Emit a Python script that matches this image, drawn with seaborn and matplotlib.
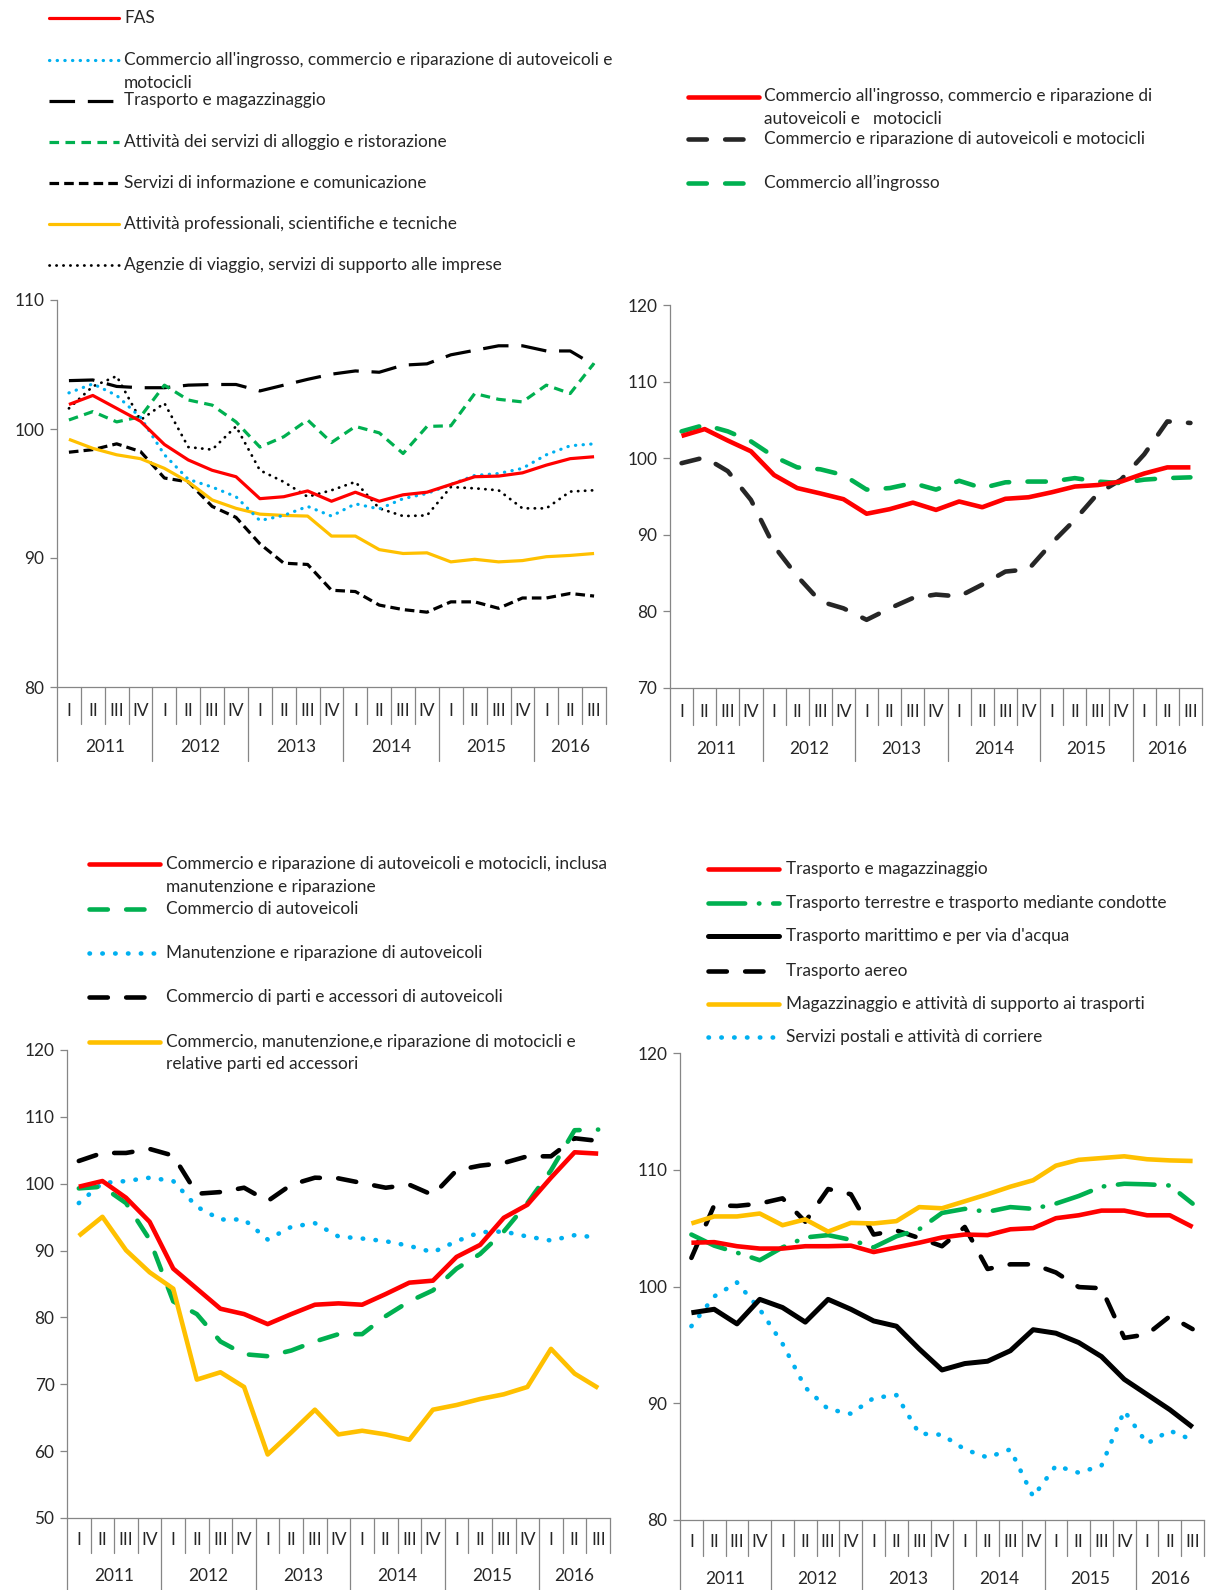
import matplotlib
matplotlib.use("Agg")
import matplotlib.pyplot as plt
import seaborn as sns
from matplotlib.lines import Line2D
from matplotlib.transforms import blended_transform_factory

# --- dati: trimestri 2011 I - 2016 III ---
trimestri = ["I", "II", "III", "IV"] * 5 + ["I", "II", "III"]
anni = ["2011", "2012", "2013", "2014", "2015", "2016"]
x_idx = list(range(len(trimestri)))

# pannello 1
p1_fas = [101.9, 102.6, 101.6, 100.6, 98.8, 97.6, 96.8, 96.3, 94.6, 94.75, 95.2, 94.4, 95.1, 94.4, 94.9, 95.1, 95.7, 96.3, 96.35, 96.6, 97.2, 97.7, 97.85]
p1_ingrosso = [102.8, 103.5, 102.6, 100.9, 98.0, 96.1, 95.5, 94.75, 92.9, 93.3, 94.0, 93.25, 94.2, 93.8, 94.6, 95.0, 95.7, 96.4, 96.55, 96.95, 98.0, 98.7, 98.85]
p1_trasporto = [103.75, 103.8, 103.3, 103.2, 103.2, 103.4, 103.45, 103.45, 102.95, 103.4, 103.85, 104.25, 104.5, 104.4, 104.95, 105.05, 105.75, 106.1, 106.45, 106.45, 106.05, 106.05, 104.95]
p1_alloggio = [100.7, 101.35, 100.55, 100.95, 103.4, 102.25, 101.85, 100.55, 98.6, 99.4, 100.7, 98.95, 100.2, 99.7, 98.1, 100.2, 100.25, 102.75, 102.3, 102.1, 103.4, 102.75, 105.1]
p1_informazione = [98.2, 98.4, 98.85, 98.25, 96.2, 95.9, 94.0, 93.15, 91.1, 89.6, 89.5, 87.5, 87.4, 86.35, 86.0, 85.8, 86.6, 86.6, 86.1, 86.9, 86.9, 87.25, 87.05]
p1_professionali = [99.2, 98.5, 98.0, 97.7, 96.95, 95.9, 94.5, 93.85, 93.4, 93.3, 93.25, 91.7, 91.7, 90.65, 90.35, 90.4, 89.7, 89.9, 89.7, 89.8, 90.1, 90.2, 90.35]
p1_agenzie = [101.6, 103.3, 104.1, 100.7, 102.0, 98.6, 98.4, 100.2, 96.8, 95.9, 94.75, 95.25, 95.9, 93.85, 93.25, 93.3, 95.5, 95.4, 95.25, 93.85, 93.85, 95.15, 95.25]

# pannello 2
p2_totale = [102.9, 103.8, 102.3, 100.9, 97.8, 96.1, 95.4, 94.65, 92.75, 93.35, 94.2, 93.25, 94.35, 93.6, 94.7, 94.9, 95.55, 96.3, 96.5, 96.95, 98.0, 98.8, 98.8]
p2_riparazione = [99.35, 100.1, 98.3, 94.55, 88.5, 84.6, 81.3, 80.4, 78.9, 80.4, 81.75, 82.2, 81.95, 83.5, 85.2, 85.5, 88.9, 91.95, 95.4, 97.2, 100.5, 104.8, 104.6]
p2_ingrosso = [103.5, 104.35, 103.5, 102.2, 100.2, 98.8, 98.55, 97.8, 95.9, 96.1, 96.75, 95.9, 97.05, 96.1, 96.85, 96.95, 96.95, 97.4, 96.95, 96.75, 97.2, 97.4, 97.5]

# pannello 3
p3_totale = [99.55, 100.4, 97.9, 94.3, 87.3, 84.3, 81.3, 80.5, 79.0, 80.5, 81.9, 82.1, 81.9, 83.5, 85.2, 85.5, 89.05, 90.85, 94.9, 96.85, 100.9, 104.7, 104.5]
p3_autoveicoli = [99.3, 99.55, 97.1, 91.65, 82.4, 80.5, 76.4, 74.5, 74.2, 75.05, 76.4, 77.5, 77.5, 80.2, 82.4, 84.05, 87.3, 89.5, 92.85, 97.1, 102.0, 108.0, 108.1]
p3_manutenzione = [97.1, 100.1, 100.4, 100.9, 100.4, 96.55, 94.65, 94.65, 91.65, 93.55, 94.1, 92.1, 91.8, 91.4, 90.7, 89.75, 91.4, 92.75, 92.85, 92.1, 91.5, 92.3, 91.95]
p3_parti = [103.4, 104.6, 104.6, 105.2, 104.2, 98.5, 98.75, 99.4, 97.4, 99.85, 100.9, 100.8, 100.1, 99.4, 99.85, 98.3, 102.0, 102.7, 103.1, 104.1, 104.1, 106.8, 106.4]
p3_motocicli = [92.2, 95.05, 90.05, 86.75, 84.3, 70.7, 71.8, 69.6, 59.5, 62.8, 66.2, 62.5, 63.05, 62.5, 61.7, 66.2, 66.9, 67.8, 68.5, 69.6, 75.3, 71.6, 69.45]

# pannello 4
p4_totale = [103.75, 103.8, 103.45, 103.25, 103.25, 103.45, 103.45, 103.5, 102.95, 103.35, 103.75, 104.2, 104.45, 104.4, 104.9, 105.0, 105.85, 106.1, 106.5, 106.5, 106.1, 106.1, 105.1]
p4_terrestre = [104.45, 103.5, 102.9, 102.25, 103.35, 104.2, 104.4, 104.0, 103.35, 104.3, 104.9, 106.3, 106.65, 106.4, 106.8, 106.65, 107.1, 107.75, 108.55, 108.8, 108.75, 108.65, 107.1]
p4_marittimo = [97.75, 98.05, 96.8, 98.9, 98.2, 96.95, 98.9, 98.05, 97.05, 96.6, 94.65, 92.85, 93.4, 93.6, 94.5, 96.3, 96.0, 95.2, 94.0, 92.05, 90.75, 89.45, 87.95]
p4_aereo = [102.45, 106.95, 106.9, 107.1, 107.55, 105.55, 108.35, 107.9, 104.45, 104.8, 104.15, 103.45, 105.1, 101.5, 101.9, 101.9, 101.2, 99.95, 99.85, 95.6, 95.9, 97.45, 96.35]
p4_magazzinaggio = [105.4, 106.0, 106.0, 106.25, 105.25, 105.75, 104.7, 105.45, 105.4, 105.6, 106.8, 106.7, 107.3, 107.9, 108.55, 109.1, 110.35, 110.85, 111.0, 111.15, 110.9, 110.8, 110.75]
p4_postali = [96.6, 99.15, 100.35, 98.05, 95.1, 91.35, 89.5, 89.1, 90.45, 90.7, 87.4, 87.3, 86.05, 85.35, 86.05, 82.0, 84.65, 84.05, 84.65, 89.35, 86.55, 87.65, 86.85]

ROSSO, CIANO, VERDE, GIALLO, NERO, SCURO = "#FF0000", "#00B0F0", "#00B050", "#FFC000", "#000000", "#262626"
GRIGIO = "#868686"
FS = 12.4

sns.set_style("ticks")
plt.rcParams["font.family"] = ["Lato", "DejaVu Sans"]

W, H = 1211, 1590
fig = plt.figure(figsize=(W / 100, H / 100), dpi=100)


def fx(x):
    return x / W


def fy(y):
    return 1 - y / H


def pannello(left, top, right, bottom, ymin, ymax, serie, off):
    ax = fig.add_axes([fx(left), fy(bottom), (right - left) / W, (bottom - top) / H])
    h = bottom - top
    for valori, (colore, lw, ls, cap) in serie:
        sns.lineplot(x=x_idx, y=valori, ax=ax, color=colore, linewidth=lw, linestyle=ls,
                     dash_capstyle=cap, solid_capstyle="butt", solid_joinstyle="round")
    sns.despine(ax=ax)
    for s in ["left", "bottom"]:
        ax.spines[s].set_color(GRIGIO)
        ax.spines[s].set_linewidth(0.9)
    ax.set_yticks(range(ymin, ymax + 1, 10))
    ax.tick_params(axis="y", length=5, width=0.9, color=GRIGIO, labelsize=FS, pad=4)
    ax.set_xticks([])
    ax.set_xlabel("")
    ax.set_ylabel("")
    # tabella delle categorie sotto l'asse
    roman_off, year_off, q_len, y_len = off
    tr = blended_transform_factory(ax.transData, ax.transAxes)
    for i, t in enumerate(trimestri):
        ax.text(i, -roman_off / h, t, transform=tr, ha="center", va="center", fontsize=FS)
    for b in range(len(trimestri) + 1):
        L = y_len if b % 4 == 0 else q_len
        ax.plot([b - 0.5, b - 0.5], [0, -L / h], transform=tr, color=GRIGIO, lw=0.9, clip_on=False)
    for k, a in enumerate(anni):
        s0 = 4 * k
        s1 = min(s0 + 4, len(trimestri))
        ax.text((s0 + s1 - 1) / 2, -year_off / h, a, transform=tr, ha="center", va="center", fontsize=FS)
    ax.set_xlim(-0.5, len(trimestri) - 0.5)
    ax.set_ylim(ymin, ymax)
    return ax


def legenda(voci, x0, x1, xt, righe):
    for (testo, (colore, lw, ls, cap)), y in zip(voci, righe):
        fig.add_artist(Line2D([fx(x0), fx(x1)], [fy(y), fy(y)], transform=fig.transFigure,
                              color=colore, lw=lw, linestyle=ls, dash_capstyle=cap, solid_capstyle="round"))
        for j, riga in enumerate(testo.split("\n")):
            fig.text(fx(xt), fy(y + j * 22.5), riga, ha="left", va="center", fontsize=FS)


# stili
LW1 = 2.3
s1_fas = (ROSSO, LW1, "-", "butt")
s1_ingrosso = (CIANO, LW1, (0, (0.1, 2.3)), "round")
s1_trasporto = (NERO, LW1, (0, (8, 4)), "butt")
s1_alloggio = (VERDE, LW1, (0, (3, 2)), "butt")
s1_informazione = (NERO, LW1, (0, (3, 1.6)), "butt")
s1_professionali = (GIALLO, LW1, "-", "butt")
s1_agenzie = (NERO, 2.0, (0, (0.1, 2.4)), "round")

LW = 3.3
s2_totale = (ROSSO, LW, "-", "butt")
s2_riparazione = (SCURO, LW, (0, (4, 4)), "round")
s2_ingrosso = (VERDE, LW, (0, (4, 4)), "round")

s3_totale = (ROSSO, LW, "-", "butt")
s3_autoveicoli = (VERDE, LW, (0, (4, 4)), "round")
s3_manutenzione = (CIANO, LW, (0, (0.1, 2.7)), "round")
s3_parti = (NERO, LW, (0, (4, 4)), "round")
s3_motocicli = (GIALLO, LW, "-", "butt")

s4_totale = (ROSSO, LW, "-", "butt")
s4_terrestre = (VERDE, LW, (0, (8, 3, 0.1, 3)), "round")
s4_marittimo = (NERO, 3.6, "-", "butt")
s4_aereo = (NERO, LW, (0, (4, 4)), "round")
s4_magazzinaggio = (GIALLO, LW, "-", "butt")
s4_postali = (CIANO, LW, (0, (0.1, 2.7)), "round")

# pannello 1
pannello(57, 300, 606, 687, 80, 110,
         [(p1_trasporto, s1_trasporto), (p1_alloggio, s1_alloggio), (p1_informazione, s1_informazione),
          (p1_professionali, s1_professionali), (p1_agenzie, s1_agenzie), (p1_ingrosso, s1_ingrosso),
          (p1_fas, s1_fas)],
         (24, 60, 37, 74))
legenda([("FAS", s1_fas),
         ("Commercio all'ingrosso, commercio e riparazione di autoveicoli e\nmotocicli", s1_ingrosso),
         ("Trasporto e magazzinaggio", s1_trasporto),
         ("Attività dei servizi di alloggio e ristorazione", s1_alloggio),
         ("Servizi di informazione e comunicazione", s1_informazione),
         ("Attività professionali, scientifiche e tecniche", s1_professionali),
         ("Agenzie di viaggio, servizi di supporto alle imprese", s1_agenzie)],
        49, 119, 124, [18, 60, 100.5, 142, 182.5, 224, 265])

# pannello 2
pannello(670, 305, 1202, 688, 70, 120,
         [(p2_riparazione, s2_riparazione), (p2_ingrosso, s2_ingrosso), (p2_totale, s2_totale)],
         (24, 61, 37, 73))
legenda([("Commercio all'ingrosso, commercio e riparazione di\nautoveicoli e   motocicli", s2_totale),
         ("Commercio e riparazione di autoveicoli e motocicli", s2_riparazione),
         ("Commercio all\u2019ingrosso", s2_ingrosso)],
        688, 759, 764, [96.5, 139, 182.5])

# pannello 3
pannello(67, 1050, 610, 1518, 50, 120,
         [(p3_parti, s3_parti), (p3_manutenzione, s3_manutenzione), (p3_autoveicoli, s3_autoveicoli),
          (p3_motocicli, s3_motocicli), (p3_totale, s3_totale)],
         (22, 58, 35, 72))
legenda([("Commercio e riparazione di autoveicoli e motocicli, inclusa\nmanutenzione e riparazione", s3_totale),
         ("Commercio di autoveicoli", s3_autoveicoli),
         ("Manutenzione e riparazione di autoveicoli", s3_manutenzione),
         ("Commercio di parti e accessori di autoveicoli", s3_parti),
         ("Commercio, manutenzione,e riparazione di motocicli e\nrelative parti ed accessori", s3_motocicli)],
        89, 160, 166, [864, 909, 953, 997, 1042])

# pannello 4
pannello(680, 1053, 1204, 1520, 80, 120,
         [(p4_aereo, s4_aereo), (p4_postali, s4_postali), (p4_terrestre, s4_terrestre),
          (p4_magazzinaggio, s4_magazzinaggio), (p4_marittimo, s4_marittimo), (p4_totale, s4_totale)],
         (22, 59, 36, 70))
legenda([("Trasporto e magazzinaggio", s4_totale),
         ("Trasporto terrestre e trasporto mediante condotte", s4_terrestre),
         ("Trasporto marittimo e per via d'acqua", s4_marittimo),
         ("Trasporto aereo", s4_aereo),
         ("Magazzinaggio e attività di supporto ai trasporti", s4_magazzinaggio),
         ("Servizi postali e attività di corriere", s4_postali)],
        708, 779, 786, [869, 903, 936, 971, 1004, 1037])

fig.savefig("out.png", dpi=100)
